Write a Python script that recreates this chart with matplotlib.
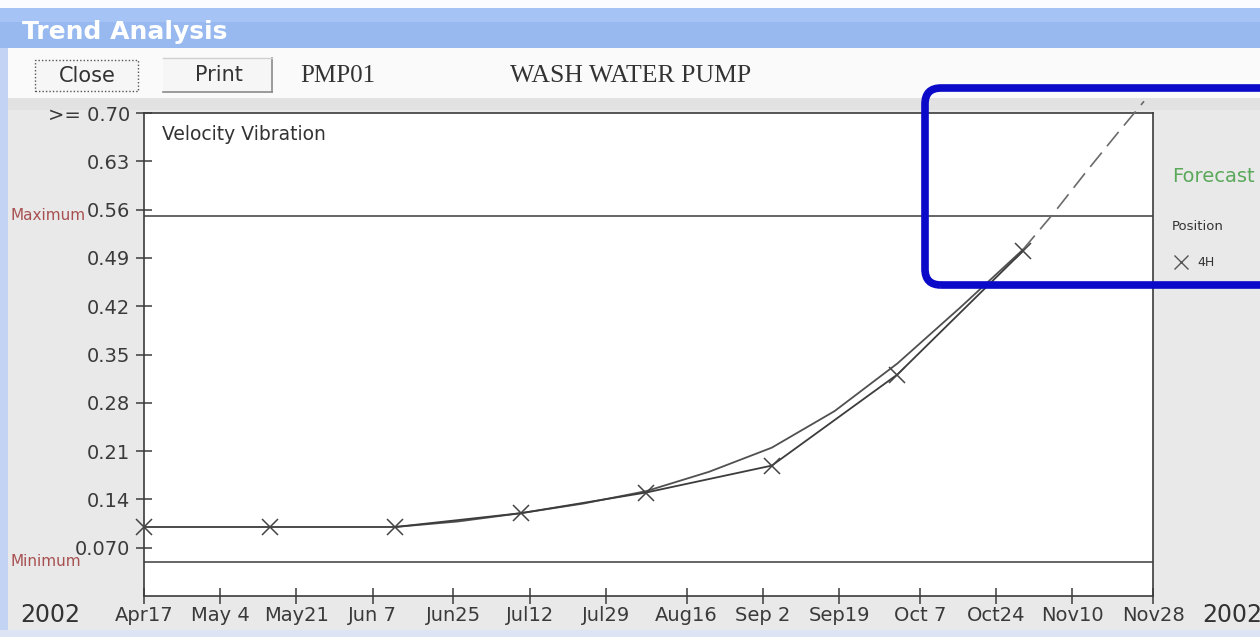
import datetime as dt
import matplotlib
matplotlib.use("Agg")
import matplotlib.pyplot as plt
from matplotlib.patches import Rectangle, FancyBboxPatch
from matplotlib.lines import Line2D
from matplotlib.transforms import IdentityTransform

# ---------------- data ----------------
reading_dates = ["2002-04-17", "2002-05-15", "2002-06-12", "2002-07-10",
                 "2002-08-07", "2002-09-04", "2002-10-02", "2002-10-30"]
reading_values = [0.100, 0.100, 0.100, 0.120, 0.150, 0.189, 0.321, 0.500]

forecast_dates = ["2002-06-12", "2002-06-26", "2002-07-10", "2002-07-24",
                  "2002-08-07", "2002-08-21", "2002-09-04", "2002-09-18",
                  "2002-10-02", "2002-10-16", "2002-10-30"]
forecast_values = [0.100, 0.108, 0.120, 0.134, 0.152, 0.180, 0.215, 0.268,
                   0.337, 0.418, 0.502]

projection_dates = ["2002-10-30", "2002-11-06", "2002-11-13", "2002-11-20",
                    "2002-11-26"]
projection_values = [0.502, 0.556, 0.614, 0.670, 0.717]

tick_dates = ["2002-04-17", "2002-05-04", "2002-05-21", "2002-06-07",
              "2002-06-25", "2002-07-12", "2002-07-29", "2002-08-16",
              "2002-09-02", "2002-09-19", "2002-10-07", "2002-10-24",
              "2002-11-10", "2002-11-28"]
tick_labels = ["Apr17", "May 4", "May21", "Jun 7", "Jun25", "Jul12", "Jul29",
               "Aug16", "Sep 2", "Sep19", "Oct 7", "Oct24", "Nov10", "Nov28"]

y_ticks = [0.07, 0.14, 0.21, 0.28, 0.35, 0.42, 0.49, 0.56, 0.63, 0.70]
y_labels = ["0.070", "0.14", "0.21", "0.28", "0.35", "0.42", "0.49", "0.56",
            "0.63", ">= 0.70"]

maximum_level = 0.55
minimum_level = 0.05


def to_dt(lst):
    return [dt.datetime.strptime(s, "%Y-%m-%d") for s in lst]


# ---------------- figure ----------------
W, H = 1260, 637
fig = plt.figure(figsize=(W / 100, H / 100), dpi=100)
fig.patch.set_facecolor("#e9e9e9")


def fx(x):
    return x / W


def fy(y):
    return 1 - y / H


def rect(x0, y0, x1, y1, zorder=-5, **kw):
    r = Rectangle((fx(x0), fy(y1)), fx(x1) - fx(x0), fy(y0) - fy(y1),
                  transform=fig.transFigure, zorder=zorder, **kw)
    fig.patches.append(r)
    return r


def hline(x0, x1, y, **kw):
    fig.lines.append(Line2D([fx(x0), fx(x1)], [fy(y), fy(y)],
                            transform=fig.transFigure, zorder=-4, **kw))


def vline(x, y0, y1, **kw):
    fig.lines.append(Line2D([fx(x), fx(x)], [fy(y0), fy(y1)],
                            transform=fig.transFigure, zorder=-4, **kw))


# window chrome
rect(0, 0, W, 8, facecolor="#fbfcff", edgecolor="none")
rect(0, 8, W, 48, facecolor="#98b9f0", edgecolor="none")
rect(0, 8, W, 22, facecolor="#a6c3f5", edgecolor="none")
rect(0, 48, W, 98, facecolor="#fafafa", edgecolor="none")
rect(0, 98, W, 110, facecolor="#e2e2e2", edgecolor="none")
rect(0, 48, 8, H, facecolor="#c3d3f4", edgecolor="none")
rect(0, 630, W, H, facecolor="#dde5f5", edgecolor="none")

fig.text(fx(22), fy(32), "Trend Analysis", color="white", fontsize=18,
         fontweight="bold", va="center", ha="left")

# buttons
rect(35, 60, 138, 91, facecolor="#f6f6f6", edgecolor="#555555",
     linestyle=(0, (1, 1.5)), linewidth=1.0)
fig.text(fx(87), fy(76), "Close", fontsize=15, color="#333333",
         ha="center", va="center")
rect(163, 58, 272, 92, facecolor="#f6f6f6", edgecolor="none")
hline(163, 272, 92, color="#8a8a8a", lw=1.2)
vline(272, 58, 92, color="#8a8a8a", lw=1.2)
hline(163, 272, 58, color="#d0d0d0", lw=1.0)
fig.text(fx(219), fy(75), "Print", fontsize=15, color="#333333",
         ha="center", va="center")
fig.text(fx(300), fy(76), "PMP01", fontsize=18, color="#333333",
         family="Liberation Serif", ha="left", va="center")
fig.text(fx(510), fy(76), "WASH WATER PUMP", fontsize=18.5, color="#333333",
         family="Liberation Serif", ha="left", va="center")

# ---------------- plot ----------------
ax_l, ax_r, ax_t, ax_b = 144, 1153, 113, 596
ax = fig.add_axes([fx(ax_l), fy(ax_b), fx(ax_r) - fx(ax_l),
                   fy(ax_t) - fy(ax_b)])
ax.set_facecolor("white")

x0 = dt.datetime(2002, 4, 17)
x1 = dt.datetime(2002, 11, 28)
ax.set_xlim(x0, x1)
ax.set_ylim(0, 0.70)

line_col = "#3c3c3c"
ax.axhline(maximum_level, color=line_col, lw=1.1)
ax.axhline(minimum_level, color=line_col, lw=1.1)

ax.plot(to_dt(forecast_dates), forecast_values, color="#505050", lw=1.3,
        zorder=3)
ax.plot(to_dt(projection_dates), projection_values, color="#6a6a6a", lw=1.2,
        dashes=(11, 5), zorder=3, clip_on=False)
ax.plot(to_dt(reading_dates), reading_values, color=line_col, lw=1.3,
        marker="x", markersize=11, mew=1.1, mec="#444444", zorder=4,
        clip_on=False)

ax.set_xticks(to_dt(tick_dates))
ax.set_xticklabels(tick_labels)
ax.set_yticks(y_ticks)
ax.set_yticklabels(y_labels)
ax.tick_params(axis="both", direction="inout", length=12, width=1.1,
               color=line_col, labelsize=14, labelcolor="#3a3a3a")
ax.tick_params(axis="x", pad=1)
ax.tick_params(axis="y", pad=4)
for s in ax.spines.values():
    s.set_color(line_col)
    s.set_linewidth(1.2)

ax.text(0.018, 0.955, "Velocity Vibration", transform=ax.transAxes,
        fontsize=13.5, color="#333333", ha="left", va="center")

# labels outside axes
fig.text(fx(10), fy(215), "Maximum", fontsize=11, color="#a85050",
         ha="left", va="center")
fig.text(fx(10), fy(562), "Minimum", fontsize=11, color="#a85050",
         ha="left", va="center")
fig.text(fx(20), fy(615), "2002", fontsize=17, color="#333333",
         ha="left", va="center")
fig.text(fx(1202), fy(615), "2002", fontsize=17, color="#333333",
         ha="left", va="center")

fig.text(fx(1172), fy(177), "Forecast", fontsize=14, color="#5aa85a",
         ha="left", va="center")
fig.text(fx(1172), fy(226), "Position", fontsize=9.5, color="#333333",
         ha="left", va="center")
fig.lines.append(Line2D([fx(1181)], [fy(262)], marker="x", markersize=10,
                        mew=1.0, color="#555555", transform=fig.transFigure))
fig.text(fx(1197), fy(262), "4H", fontsize=9, color="#333333",
         ha="left", va="center")

# blue highlight box (pixel coordinates)
bx0, by0, bx1, by1 = 925, 88, 1300, 285
box = FancyBboxPatch((bx0, H - by1), bx1 - bx0, by1 - by0,
                     boxstyle="round,pad=0,rounding_size=16",
                     transform=IdentityTransform(), facecolor="none",
                     edgecolor="#0a0ac8", linewidth=5.5, zorder=10)
fig.patches.append(box)

fig.savefig("out.png", dpi=100, facecolor=fig.get_facecolor())
